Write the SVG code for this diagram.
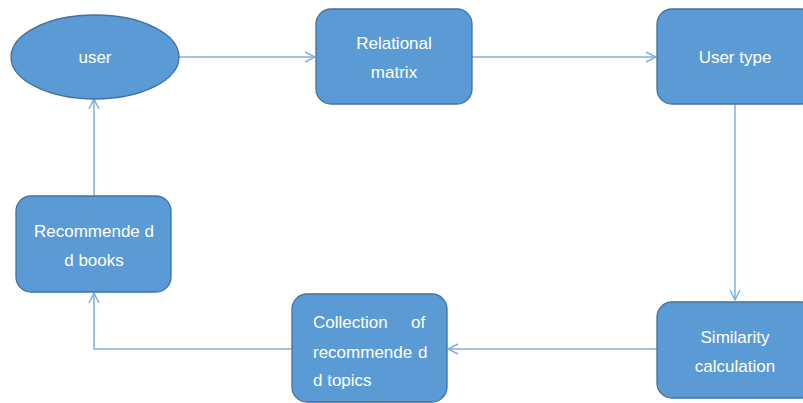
<svg xmlns="http://www.w3.org/2000/svg" width="803" height="403" viewBox="0 0 803 403">
  <defs>
    <marker id="arrow" viewBox="0 0 12 12" refX="11" refY="6" markerWidth="12" markerHeight="12" markerUnits="userSpaceOnUse" orient="auto">
      <path d="M1,1 L11,6 L1,11" fill="none" stroke="#7eb0de" stroke-width="1.5"/>
    </marker>
    <style>
      .node { fill: #5b9bd5; stroke: #41719c; stroke-width: 1.3; }
      .label { fill: #ffffff; font-family: "Liberation Sans", Arial, sans-serif; font-size: 17px; }
      .mid { text-anchor: middle; }
      .edge { fill: none; stroke: #7eb0de; stroke-width: 1.5; marker-end: url(#arrow); }
    </style>
  </defs>

  <g id="connectors">
    <line class="edge" x1="179" y1="57" x2="315" y2="57"/>
    <line class="edge" x1="472" y1="57" x2="656" y2="57"/>
    <line class="edge" x1="735" y1="104" x2="735" y2="300"/>
    <line class="edge" x1="657" y1="349" x2="448" y2="349"/>
    <polyline class="edge" points="292,349 94,349 94,293"/>
    <line class="edge" x1="94" y1="196" x2="94" y2="99"/>
  </g>

  <g id="user">
    <ellipse class="node" cx="95" cy="57" rx="84" ry="42"/>
    <text class="label mid" x="95" y="63">user</text>
  </g>

  <g id="relational-matrix">
    <rect class="node" x="316" y="9" width="156" height="95" rx="15"/>
    <text class="label mid" x="394" y="49">Relational</text>
    <text class="label mid" x="394" y="78">matrix</text>
  </g>

  <g id="user-type">
    <rect class="node" x="657" y="9" width="160" height="95" rx="15"/>
    <text class="label mid" x="735" y="63">User type</text>
  </g>

  <g id="similarity-calculation">
    <rect class="node" x="657" y="302" width="160" height="96" rx="15"/>
    <text class="label mid" x="735" y="343">Similarity</text>
    <text class="label mid" x="735" y="372">calculation</text>
  </g>

  <g id="collection">
    <rect class="node" x="292" y="294" width="155" height="108" rx="15"/>
    <text class="label" x="313" y="328">Collection</text>
    <text class="label" x="411" y="328">of</text>
    <text class="label" x="313" y="358">recommende</text>
    <text class="label" x="418" y="358">d</text>
    <text class="label" x="313" y="386">d topics</text>
  </g>

  <g id="recommended-books">
    <rect class="node" x="16" y="196" width="155" height="96" rx="15"/>
    <text class="label mid" x="94" y="237">Recommende d</text>
    <text class="label mid" x="94" y="266">d books</text>
  </g>
</svg>
